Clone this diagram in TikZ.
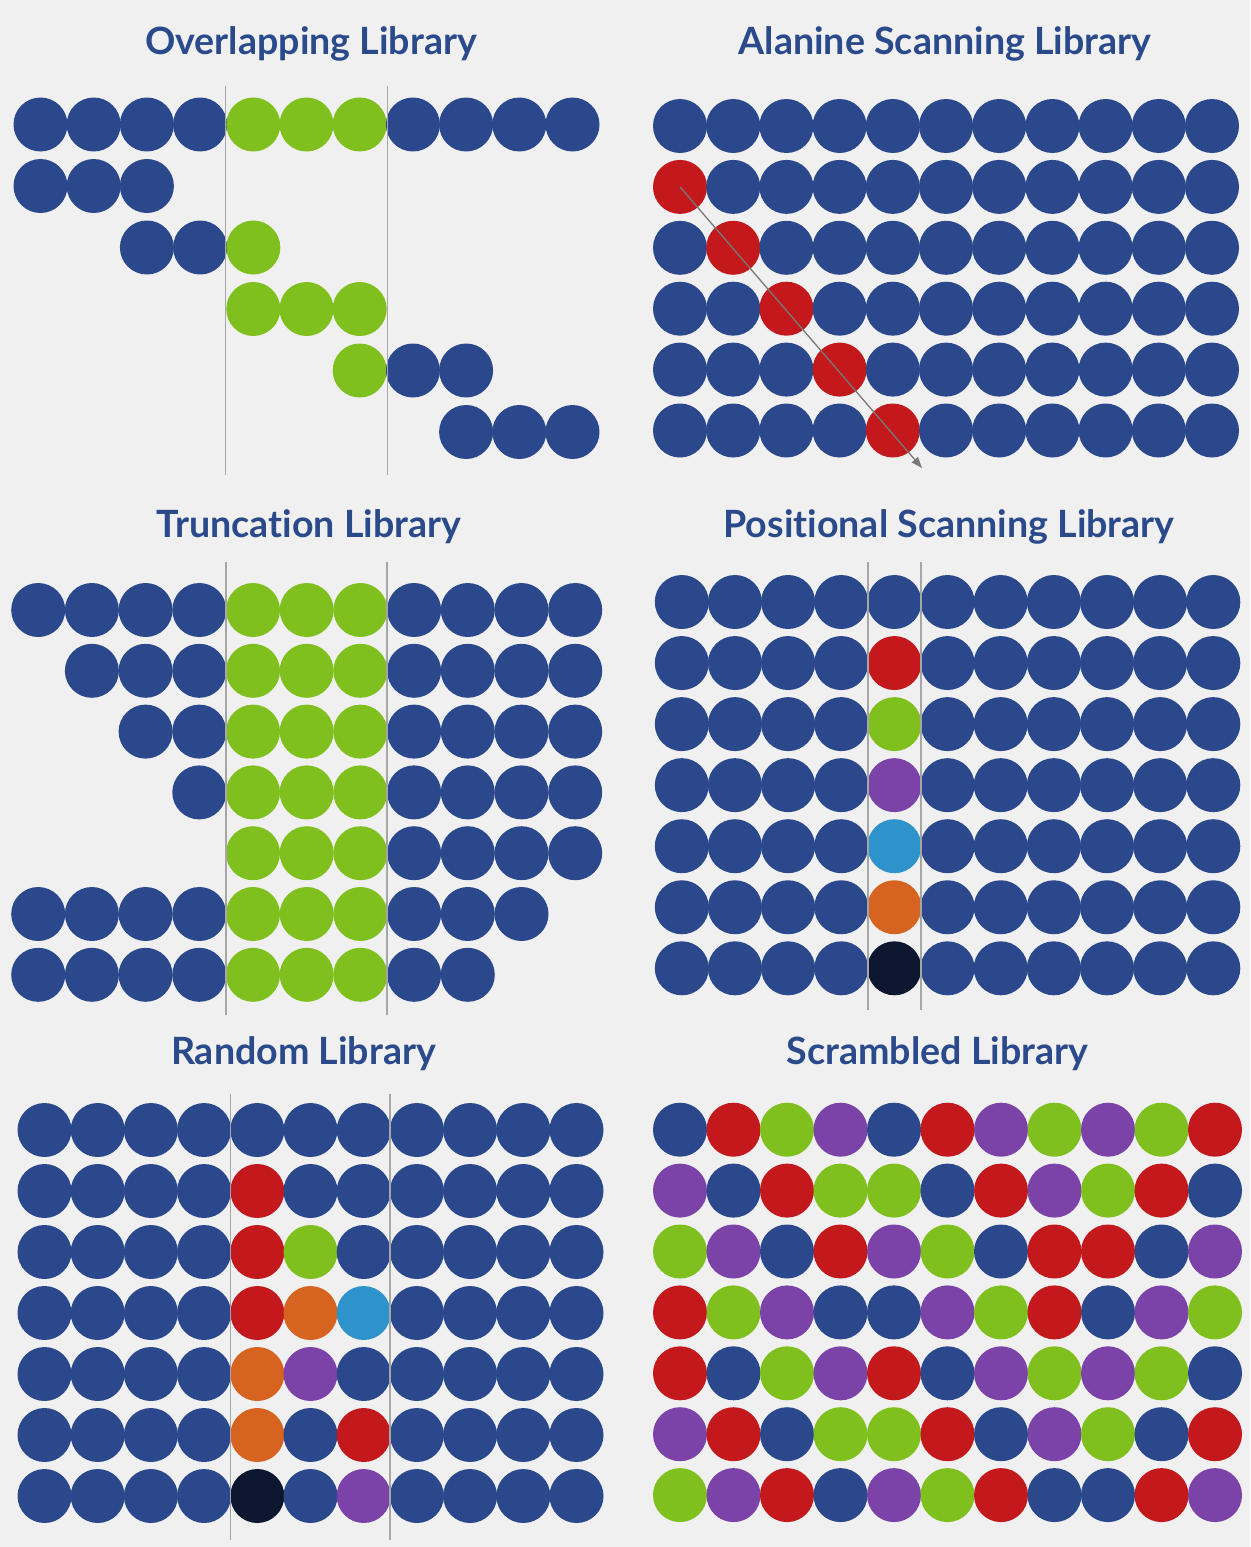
\documentclass[tikz,border=0pt]{standalone}
\usepackage{fontspec}
\setmainfont{Lato}[Ligatures=NoCommon]
\usetikzlibrary{arrows.meta}
\definecolor{bggray}{HTML}{F0F0F0}
\definecolor{titleblue}{HTML}{2B4A8B}
\definecolor{linegray}{HTML}{A6A6A6}
\definecolor{arrowgray}{HTML}{787878}
\definecolor{beadB}{HTML}{2A488B}
\definecolor{beadG}{HTML}{7FC01E}
\definecolor{beadR}{HTML}{C3191C}
\definecolor{beadP}{HTML}{7B43A8}
\definecolor{beadC}{HTML}{2E93CA}
\definecolor{beadO}{HTML}{D6631F}
\definecolor{beadK}{HTML}{0E1730}
\tikzstyle{bead} = [circle, minimum size=54pt, inner sep=0pt, draw=none]
\tikzstyle{libtitle} = [anchor=base, text=titleblue, font=\fontsize{37.6}{42}\selectfont\bfseries]
\tikzstyle{divider} = [draw=linegray, line width=1.3pt]
\tikzstyle{scanarrow} = [draw=arrowgray, line width=1.3pt, -{Triangle[length=11pt,width=8pt]}]

% #1 name, #2 x of first bead, #3 y of first row, #4 column step, #5 row step, #6 rows (x = no bead)
\newcommand{\beadpanel}[6]{%
  \foreach \rowcols [count=\r] in {#6} {
    \foreach \c [count=\i] in \rowcols {
      \if\c x\else
        \node[bead, fill=bead\c] (#1-\r-\i) at ({#2+(\i-1)*#4}, {#3+(\r-1)*#5}) {};
      \fi
    }
  }%
}

\begin{document}
\begin{tikzpicture}[x=1pt, y=-1pt]
\fill[bggray] (0,0) rectangle (1250,1547);
\useasboundingbox (0,0) rectangle (1250,1547);

\node[libtitle] (ovltitle) at (311,54) {Overlapping Library};
\node[libtitle] (alatitle) at (945,54) {Alanine Scanning Library};
\node[libtitle] (trctitle) at (309,537) {Truncation Library};
\node[libtitle] (postitle) at (949,537) {Positional Scanning Library};
\node[libtitle] (rndtitle) at (303.5,1064) {Random Library};
\node[libtitle] (scrtitle) at (937.5,1064) {Scrambled Library};

\beadpanel{ovl}{40.5}{124.5}{53.2}{61.5}{
  {B,B,B,B,G,G,G,B,B,B,B},
  {B,B,B},
  {x,x,B,B,G},
  {x,x,x,x,G,G,G},
  {x,x,x,x,x,x,G,B,B},
  {x,x,x,x,x,x,x,x,B,B,B}}

\beadpanel{ala}{680}{126}{53.2}{60.9}{
  {B,B,B,B,B,B,B,B,B,B,B},
  {R,B,B,B,B,B,B,B,B,B,B},
  {B,R,B,B,B,B,B,B,B,B,B},
  {B,B,R,B,B,B,B,B,B,B,B},
  {B,B,B,R,B,B,B,B,B,B,B},
  {B,B,B,B,R,B,B,B,B,B,B}}

\beadpanel{trc}{38.2}{610}{53.7}{60.8}{
  {B,B,B,B,G,G,G,B,B,B,B},
  {x,B,B,B,G,G,G,B,B,B,B},
  {x,x,B,B,G,G,G,B,B,B,B},
  {x,x,x,B,G,G,G,B,B,B,B},
  {x,x,x,x,G,G,G,B,B,B,B},
  {B,B,B,B,G,G,G,B,B,B},
  {B,B,B,B,G,G,G,B,B}}

\beadpanel{pos}{681.8}{602}{53.15}{61.05}{
  {B,B,B,B,B,B,B,B,B,B,B},
  {B,B,B,B,R,B,B,B,B,B,B},
  {B,B,B,B,G,B,B,B,B,B,B},
  {B,B,B,B,P,B,B,B,B,B,B},
  {B,B,B,B,C,B,B,B,B,B,B},
  {B,B,B,B,O,B,B,B,B,B,B},
  {B,B,B,B,K,B,B,B,B,B,B}}

\beadpanel{rnd}{44.5}{1130}{53.2}{61}{
  {B,B,B,B,B,B,B,B,B,B,B},
  {B,B,B,B,R,B,B,B,B,B,B},
  {B,B,B,B,R,G,B,B,B,B,B},
  {B,B,B,B,R,O,C,B,B,B,B},
  {B,B,B,B,O,P,B,B,B,B,B},
  {B,B,B,B,O,B,R,B,B,B,B},
  {B,B,B,B,K,B,P,B,B,B,B}}

\beadpanel{scr}{680}{1129.7}{53.5}{60.9}{
  {B,R,G,P,B,R,P,G,P,G,R},
  {P,B,R,G,G,B,R,P,G,R,B},
  {G,P,B,R,P,G,B,R,R,B,P},
  {R,G,P,B,B,P,G,R,B,P,G},
  {R,B,G,P,R,B,P,G,P,G,B},
  {P,R,B,G,G,R,B,P,G,B,R},
  {G,P,R,B,P,G,R,B,B,R,P}}

\coordinate (ovlcut1top) at (225.5,86);
\coordinate (ovlcut1bot) at (225.5,475);
\coordinate (ovlcut2top) at (387.5,86);
\coordinate (ovlcut2bot) at (387.5,475);
\coordinate (trccut1top) at (226,562);
\coordinate (trccut1bot) at (226,1015);
\coordinate (trccut2top) at (387,562);
\coordinate (trccut2bot) at (387,1015);
\coordinate (poscut1top) at (868,562);
\coordinate (poscut1bot) at (868,1010);
\coordinate (poscut2top) at (921,562);
\coordinate (poscut2bot) at (921,1010);
\coordinate (rndcut1top) at (230.5,1094);
\coordinate (rndcut1bot) at (230.5,1540);
\coordinate (rndcut2top) at (390,1094);
\coordinate (rndcut2bot) at (390,1540);
\coordinate (alaend) at (922,468);

\draw [divider] (ovlcut1top) -- (ovlcut1bot);
\draw [divider] (ovlcut2top) -- (ovlcut2bot);
\draw [divider] (trccut1top) -- (trccut1bot);
\draw [divider] (trccut2top) -- (trccut2bot);
\draw [divider] (poscut1top) -- (poscut1bot);
\draw [divider] (poscut2top) -- (poscut2bot);
\draw [divider] (rndcut1top) -- (rndcut1bot);
\draw [divider] (rndcut2top) -- (rndcut2bot);

\draw [scanarrow] (ala-2-1.center) -- (alaend);

\end{tikzpicture}
\end{document}
